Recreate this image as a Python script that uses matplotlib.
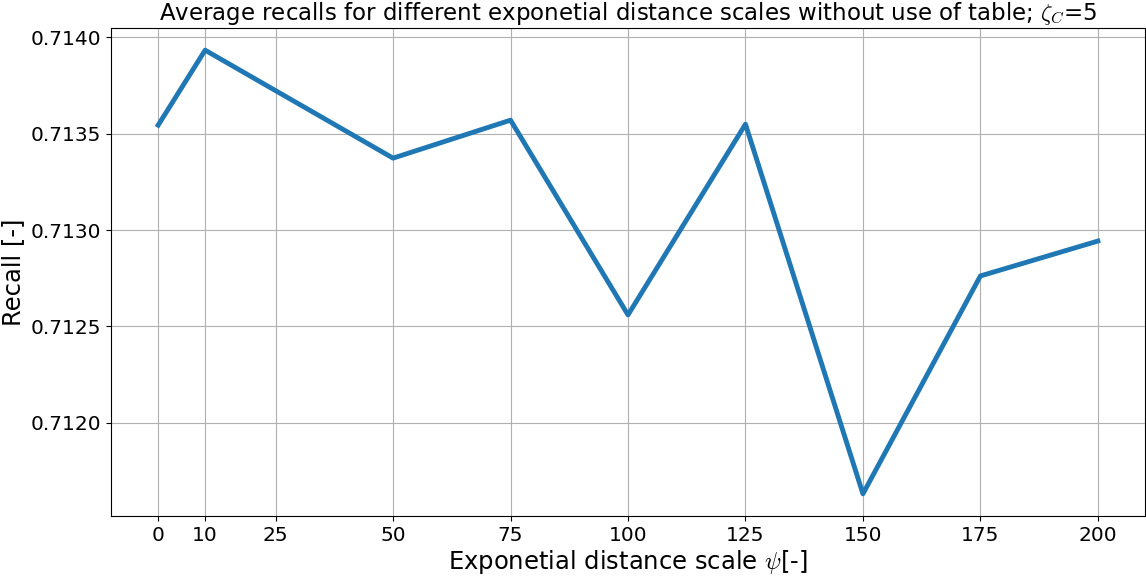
import matplotlib
matplotlib.use("Agg")
import matplotlib.pyplot as plt

plt.rcParams["mathtext.fontset"] = "cm"

# average recall per exponential distance scale (zeta_C = 5, no table)
scales = [0, 10, 50, 75, 100, 125, 150, 175, 200]
recalls = [0.713544, 0.713933, 0.713373, 0.713570, 0.712560,
           0.713549, 0.711632, 0.712762, 0.712943]
xticks = [0, 10, 25, 50, 75, 100, 125, 150, 175, 200]

fig, ax = plt.subplots(figsize=(11.46, 5.77), dpi=100)
fig.subplots_adjust(left=0.097, right=0.999, top=0.9515, bottom=0.1057)

ax.plot(scales, recalls, color="#1f77b4", linewidth=3.5)
ax.set_xticks(xticks)
ax.grid(True)
ax.tick_params(labelsize=14.5)
ax.set_xlabel(r"Exponetial distance scale $\psi$[-]", fontsize=17.5, labelpad=2)
ax.set_ylabel("Recall [-]", fontsize=17.5)
ax.set_title(r"Average recalls for different exponetial distance scales without use of table; $\zeta_C$=5",
             fontsize=16.5)

fig.savefig("out.png", dpi=100)
